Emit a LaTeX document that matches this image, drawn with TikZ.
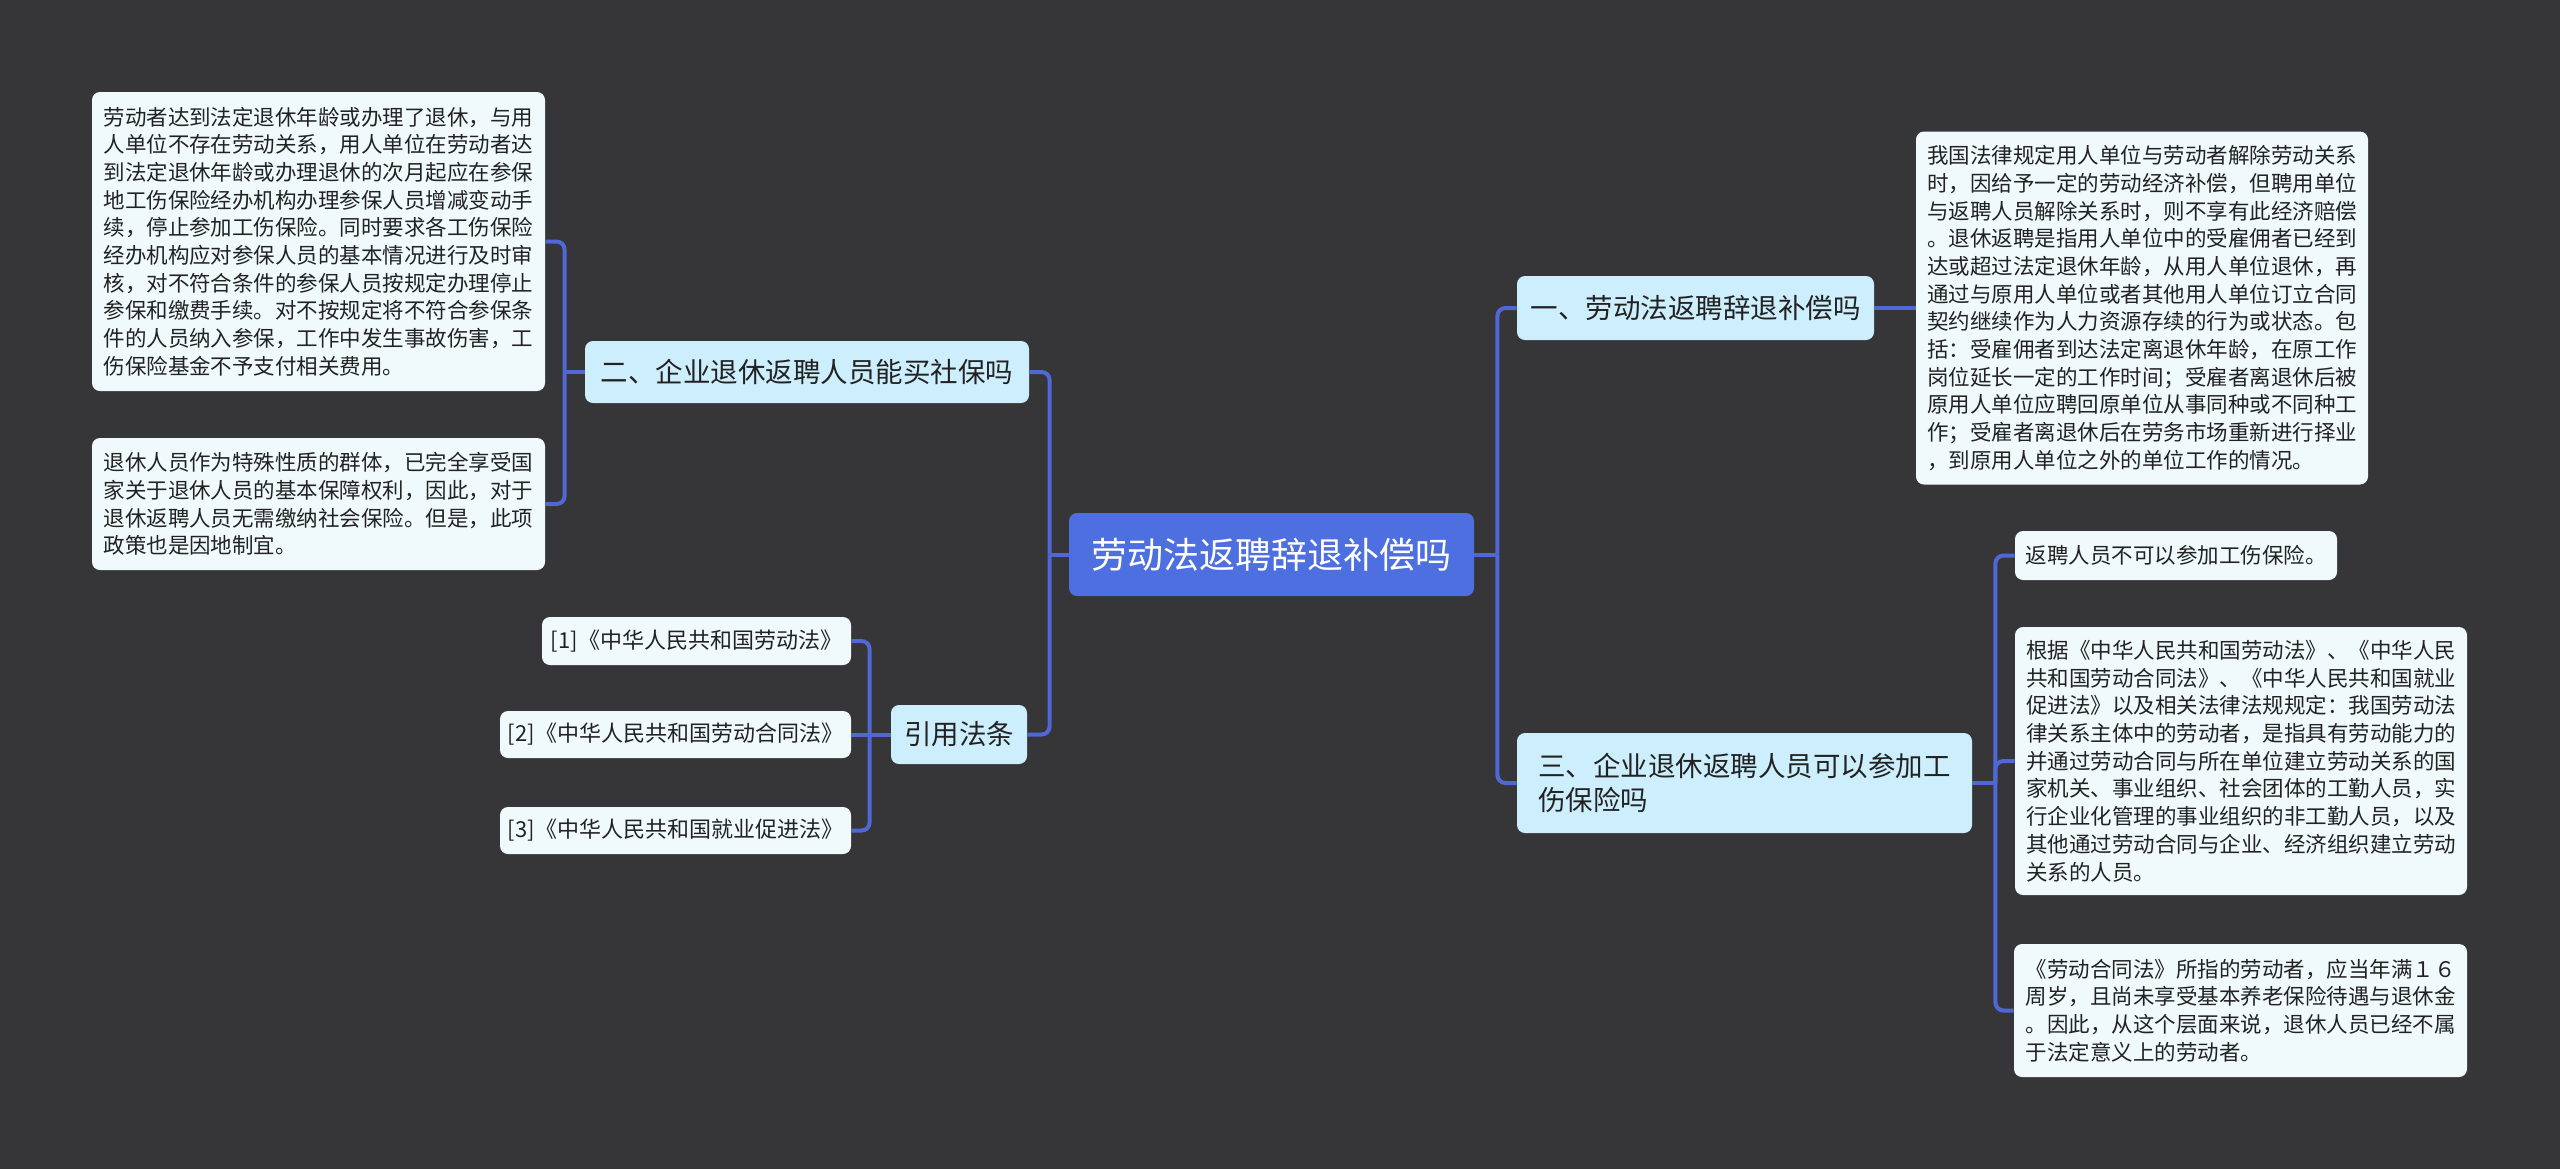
\documentclass[tikz,border=0pt]{standalone}
\usepackage{fontspec}
\setmainfont{Noto Sans CJK SC}
\usetikzlibrary{calc}
\definecolor{bg}{HTML}{363537}
\definecolor{rootc}{HTML}{4D6FE0}
\definecolor{brc}{HTML}{CDEFFD}
\definecolor{leafc}{HTML}{F0FAFD}
\definecolor{linec}{HTML}{5068D6}
\definecolor{txt}{HTML}{222222}
\tikzset{
 box/.style={rounded corners=4pt, align=left, inner sep=2pt, text=txt},
 rootbox/.style={box, fill=rootc, text=white, font=\fontsize{18pt}{22pt}\selectfont, align=center},
 brbox/.style={box, fill=brc, font=\fontsize{13.75pt}{17pt}\selectfont},
 leafbox/.style={box, fill=leafc, font=\fontsize{10.75pt}{13.85pt}\selectfont},
 refbox/.style={box, fill=leafc, font=\fontsize{11pt}{14pt}\selectfont},
 conn/.style={draw=linec, line width=2pt, rounded corners=4pt},
}
\begin{document}
\begin{tikzpicture}[x=0.5pt,y=-0.5pt]
\fill[bg] (0,0) rectangle (2560,1169);
\useasboundingbox (0,0) rectangle (2560,1169);

% root
\node[rootbox, minimum width=202.5pt, minimum height=41.5pt] (root) at (1271.5,554.5) {劳动法返聘辞退补偿吗};

% branches
\node[brbox, minimum width=178.5pt, minimum height=32pt] (b1) at (1695.5,308) {一、劳动法返聘辞退补偿吗};
\node[brbox, minimum width=222pt, minimum height=31pt] (b2) at (807,372) {二、企业退休返聘人员能买社保吗};
\node[brbox, minimum width=227.5pt, minimum height=50pt] (b3) at (1744.5,783) {三、企业退休返聘人员可以参加工\\伤保险吗};
\node[brbox, minimum width=68pt, minimum height=29.5pt, align=center] (b4) at (959,734.5) {引用法条};

% left leaves
\node[leafbox, minimum width=226.5pt, minimum height=149.5pt] (L1) at (318.5,241.5) {劳动者达到法定退休年龄或办理了退休，与用\\
人单位不存在劳动关系，用人单位在劳动者达\\
到法定退休年龄或办理退休的次月起应在参保\\
地工伤保险经办机构办理参保人员增减变动手\\
续，停止参加工伤保险。同时要求各工伤保险\\
经办机构应对参保人员的基本情况进行及时审\\
核，对不符合条件的参保人员按规定办理停止\\
参保和缴费手续。对不按规定将不符合参保条\\
件的人员纳入参保，工作中发生事故伤害，工\\
伤保险基金不予支付相关费用。};
\node[leafbox, minimum width=226.5pt, minimum height=66pt] (L2) at (318.5,504) {退休人员作为特殊性质的群体，已完全享受国\\
家关于退休人员的基本保障权利，因此，对于\\
退休返聘人员无需缴纳社会保险。但是，此项\\
政策也是因地制宜。};

% right leaves
\node[leafbox, minimum width=226pt, minimum height=176.5pt] (R1) at (2142,308) {我国法律规定用人单位与劳动者解除劳动关系\\
时，因给予一定的劳动经济补偿，但聘用单位\\
与返聘人员解除关系时，则不享有此经济赔偿\\
。退休返聘是指用人单位中的受雇佣者已经到\\
达或超过法定退休年龄，从用人单位退休，再\\
通过与原用人单位或者其他用人单位订立合同\\
契约继续作为人力资源存续的行为或状态。包\\
括：受雇佣者到达法定离退休年龄，在原工作\\
岗位延长一定的工作时间；受雇者离退休后被\\
原用人单位应聘回原单位从事同种或不同种工\\
作；受雇者离退休后在劳务市场重新进行择业\\
，到原用人单位之外的单位工作的情况。};
\node[leafbox, minimum width=161pt, minimum height=24.5pt] (R2a) at (2176,555.5) {返聘人员不可以参加工伤保险。};
\node[leafbox, minimum width=226pt, minimum height=134pt] (R2b) at (2241,761) {根据《中华人民共和国劳动法》、《中华人民\\
共和国劳动合同法》、《中华人民共和国就业\\
促进法》以及相关法律法规规定：我国劳动法\\
律关系主体中的劳动者，是指具有劳动能力的\\
并通过劳动合同与所在单位建立劳动关系的国\\
家机关、事业组织、社会团体的工勤人员，实\\
行企业化管理的事业组织的非工勤人员，以及\\
其他通过劳动合同与企业、经济组织建立劳动\\
关系的人员。};
\node[leafbox, minimum width=226.5pt, minimum height=66.5pt] (R2c) at (2240.5,1010.5) {《劳动合同法》所指的劳动者，应当年满１６\\
周岁，且尚未享受基本养老保险待遇与退休金\\
。因此，从这个层面来说，退休人员已经不属\\
于法定意义上的劳动者。};

% reference leaves
\node[refbox, minimum width=154.5pt, minimum height=24pt, align=center] (f1) at (696.5,641) {[1]《中华人民共和国劳动法》};
\node[refbox, minimum width=175.5pt, minimum height=23.5pt, align=center] (f2) at (675.5,734.5) {[2]《中华人民共和国劳动合同法》};
\node[refbox, minimum width=175.5pt, minimum height=23.5pt, align=center] (f3) at (675.5,830.5) {[3]《中华人民共和国就业促进法》};

% junctions
\coordinate (jr) at ($(root.east)+(23,0)$);
\coordinate (jl) at ($(root.west)+(-19,0)$);
\coordinate (j2) at ($(b2.west)+(-20,0)$);
\coordinate (j3) at ($(b3.east)+(23,0)$);
\coordinate (j4) at ($(b4.west)+(-21,0)$);

% connectors
\draw[conn] (root.east) -- (jr);
\draw[conn] (b1.west) -| (jr);
\draw[conn] (b3.west) -| (jr);
\draw[conn] (root.west) -- (jl);
\draw[conn] (b2.east) -| (jl);
\draw[conn] (b4.east) -| (jl);
\draw[conn] (b1.east) -- (R1.west);
\draw[conn] (b2.west) -- (j2);
\draw[conn] (L1.east) -| (j2);
\draw[conn] (L2.east) -| (j2);
\draw[conn] (b3.east) -- (j3);
\draw[conn] (R2a.west) -| (j3);
\draw[conn] (R2b.west) -| (j3);
\draw[conn] (R2c.west) -| (j3);
\draw[conn] (b4.west) -- (j4);
\draw[conn] (f1.east) -| (j4);
\draw[conn] (f2.east) -- (j4);
\draw[conn] (f3.east) -| (j4);
\end{tikzpicture}
\end{document}
